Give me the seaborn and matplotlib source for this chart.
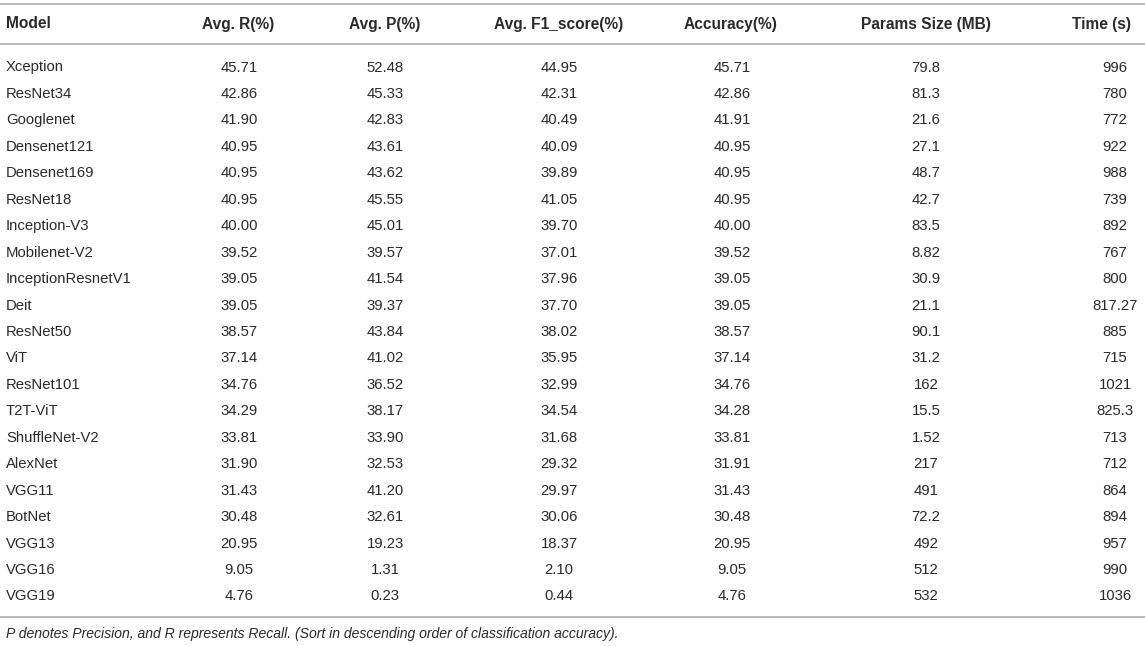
import matplotlib
matplotlib.use("Agg")
import matplotlib.pyplot as plt
import seaborn as sns

# dati della tabella
models = ["Xception", "ResNet34", "Googlenet", "Densenet121", "Densenet169", "ResNet18",
          "Inception-V3", "Mobilenet-V2", "InceptionResnetV1", "Deit", "ResNet50", "ViT",
          "ResNet101", "T2T-ViT", "ShuffleNet-V2", "AlexNet", "VGG11", "BotNet",
          "VGG13", "VGG16", "VGG19"]
avg_r = ["45.71", "42.86", "41.90", "40.95", "40.95", "40.95", "40.00", "39.52", "39.05", "39.05",
         "38.57", "37.14", "34.76", "34.29", "33.81", "31.90", "31.43", "30.48", "20.95", "9.05", "4.76"]
avg_p = ["52.48", "45.33", "42.83", "43.61", "43.62", "45.55", "45.01", "39.57", "41.54", "39.37",
         "43.84", "41.02", "36.52", "38.17", "33.90", "32.53", "41.20", "32.61", "19.23", "1.31", "0.23"]
avg_f1 = ["44.95", "42.31", "40.49", "40.09", "39.89", "41.05", "39.70", "37.01", "37.96", "37.70",
          "38.02", "35.95", "32.99", "34.54", "31.68", "29.32", "29.97", "30.06", "18.37", "2.10", "0.44"]
accuracy = ["45.71", "42.86", "41.91", "40.95", "40.95", "40.95", "40.00", "39.52", "39.05", "39.05",
            "38.57", "37.14", "34.76", "34.28", "33.81", "31.91", "31.43", "30.48", "20.95", "9.05", "4.76"]
params = ["79.8", "81.3", "21.6", "27.1", "48.7", "42.7", "83.5", "8.82", "30.9", "21.1",
          "90.1", "31.2", "162", "15.5", "1.52", "217", "491", "72.2", "492", "512", "532"]
times = ["996", "780", "772", "922", "988", "739", "892", "767", "800", "817.27",
         "885", "715", "1021", "825.3", "713", "712", "864", "894", "957", "990", "1036"]
headers = ["Model", "Avg. R(%)", "Avg. P(%)", "Avg. F1_score(%)", "Accuracy(%)",
           "Params Size (MB)", "Time (s)"]
footnote = "P denotes Precision, and R represents Recall. (Sort in descending order of classification accuracy)."

sns.set_theme(style="white")
plt.rcParams['font.family'] = ['Liberation Sans', 'DejaVu Sans']

W, H = 1145, 646
fig = plt.figure(figsize=(W / 100, H / 100), dpi=100)
ax = fig.add_axes([0, 0, 1, 1])
ax.set_xlim(0, W)
ax.set_ylim(H, 0)
ax.axis("off")

txt = "#2a2a2a"
rule = "#b8b8b8"

# linee orizzontali
for y in [4, 44, 617]:
    ax.axhline(y, color=rule, lw=1.4)

# intestazione
col_x = [6, 238, 385, 559, 731, 926, 1131]
col_ha = ["left", "center", "center", "center", "center", "center", "right"]
for h, x, ha in zip(headers, col_x, col_ha):
    ax.text(x, 24, h, ha=ha, va="center", fontsize=11.2, fontweight="bold", color=txt)

# righe
val_x = [6, 239, 385, 559, 732, 926, 1115]
val_ha = ["left", "center", "center", "center", "center", "center", "center"]
cols = [models, avg_r, avg_p, avg_f1, accuracy, params, times]
y0, dy = 67.5, 26.45
for i in range(len(models)):
    y = y0 + i * dy
    for col, x, ha in zip(cols, val_x, val_ha):
        ax.text(x, y, col[i], ha=ha, va="center", fontsize=10.7, color=txt)

ax.text(6, 634, footnote, ha="left", va="center", fontsize=10.1, style="italic", color=txt)

fig.savefig("out.png", dpi=100)
